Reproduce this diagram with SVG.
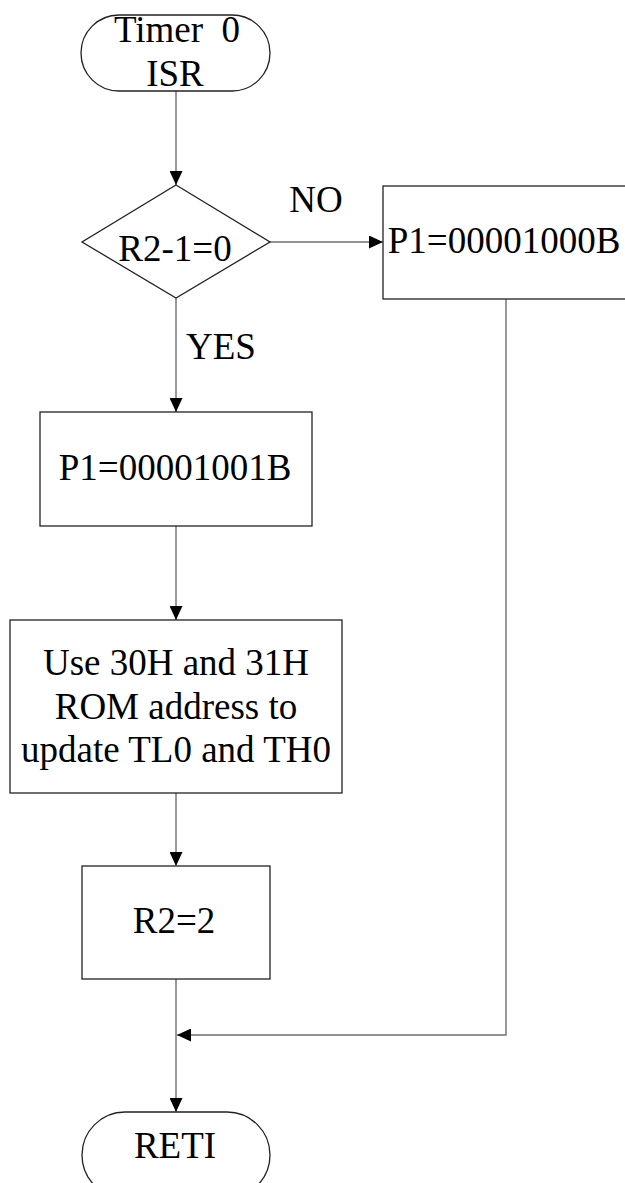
<svg xmlns="http://www.w3.org/2000/svg" width="625" height="1183" viewBox="0 0 625 1183">
  <style>
    .shape { fill: #ffffff; stroke: #222222; stroke-width: 1.3; }
    .conn { fill: none; stroke: #6e6e6e; stroke-width: 1.4; }
    .t { font-family: "Liberation Serif", "Times New Roman", serif; font-size: 37px; fill: #000000; text-anchor: middle; }
  </style>
  <defs>
    <marker id="arrow" viewBox="0 0 14 13" refX="14" refY="6.5" markerWidth="14" markerHeight="13" markerUnits="userSpaceOnUse" orient="auto">
      <path d="M0,0 L14,6.5 L0,13 Z" fill="#000000"/>
    </marker>
  </defs>
  <rect width="625" height="1183" fill="#ffffff"/>

  <g id="connectors">
    <line class="conn" x1="176" y1="91" x2="176" y2="185" marker-end="url(#arrow)"/>
    <line class="conn" x1="270" y1="242" x2="383" y2="242" marker-end="url(#arrow)"/>
    <line class="conn" x1="176" y1="298" x2="176" y2="412" marker-end="url(#arrow)"/>
    <line class="conn" x1="176" y1="526" x2="176" y2="620" marker-end="url(#arrow)"/>
    <line class="conn" x1="176" y1="793" x2="176" y2="866" marker-end="url(#arrow)"/>
    <line class="conn" x1="176" y1="979" x2="176" y2="1112" marker-end="url(#arrow)"/>
    <polyline class="conn" points="506,299 506,1035 177,1035" marker-end="url(#arrow)"/>
    <text class="t" x="316" y="212">NO</text>
    <text class="t" x="221" y="359">YES</text>
  </g>

  <g id="start">
    <rect class="shape" x="81" y="15" width="189" height="76" rx="38" ry="38"/>
    <text class="t" x="177" y="42" xml:space="preserve">Timer  0</text>
    <text class="t" x="175" y="86">ISR</text>
  </g>

  <g id="decision">
    <polygon class="shape" points="176,185 270,242 176,298 82,242"/>
    <text class="t" x="175" y="261">R2-1=0</text>
  </g>

  <g id="p1-no">
    <rect class="shape" x="383" y="186" width="245" height="113"/>
    <text class="t" x="504" y="253">P1=00001000B</text>
  </g>

  <g id="p1-yes">
    <rect class="shape" x="40" y="412" width="272" height="114"/>
    <text class="t" x="175" y="480">P1=00001001B</text>
  </g>

  <g id="update">
    <rect class="shape" x="10" y="620" width="332" height="173"/>
    <text class="t" x="176" y="675">Use 30H and 31H</text>
    <text class="t" x="176" y="719">ROM address to</text>
    <text class="t" x="176" y="762">update TL0 and TH0</text>
  </g>

  <g id="r2">
    <rect class="shape" x="82" y="866" width="188" height="113"/>
    <text class="t" x="174" y="933">R2=2</text>
  </g>

  <g id="end">
    <rect class="shape" x="82" y="1112" width="188" height="86" rx="43" ry="43"/>
    <text class="t" x="175" y="1158">RETI</text>
  </g>
</svg>
